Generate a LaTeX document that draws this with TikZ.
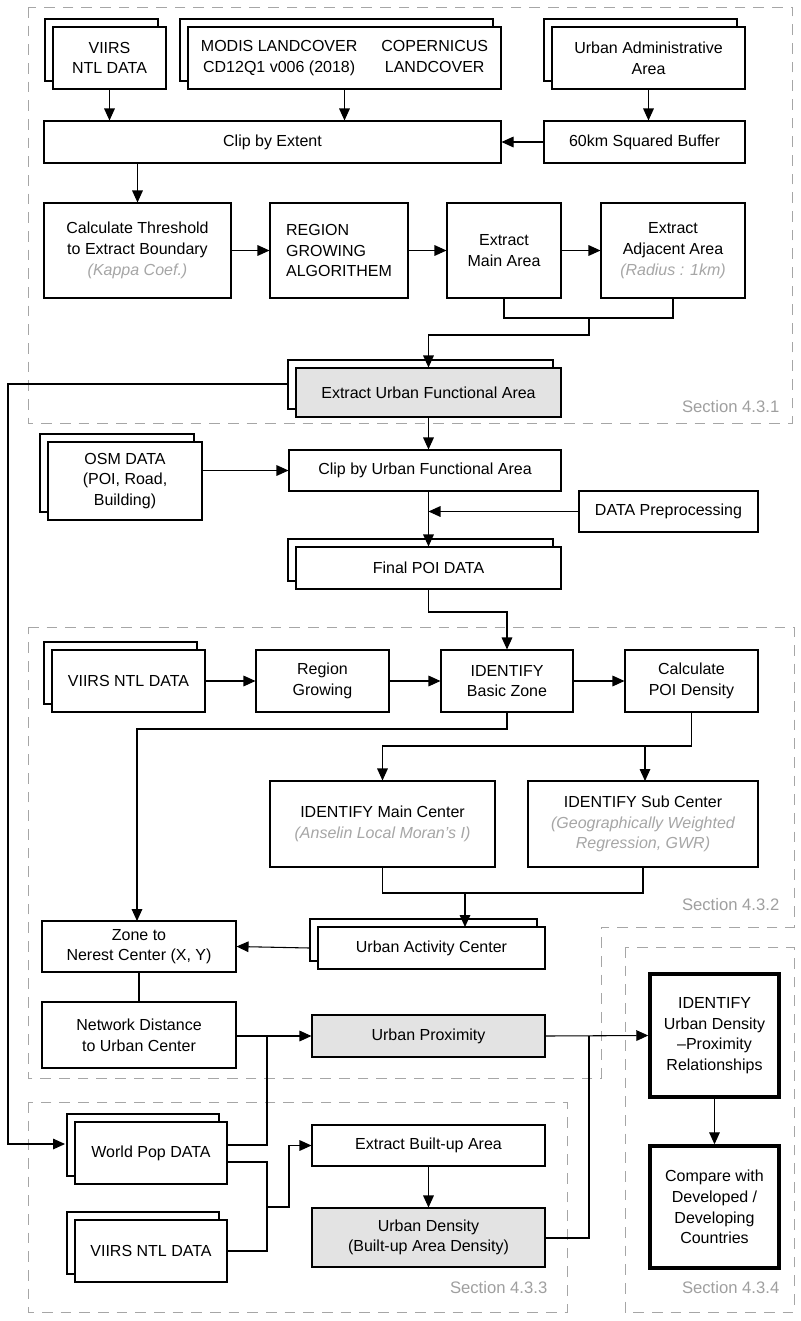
\documentclass[tikz,border=0pt]{standalone}
\usepackage{fontspec}
\setmainfont{Liberation Sans}
\usetikzlibrary{arrows.meta,shadows}
\begin{document}
\begin{tikzpicture}[x=0.75pt,y=-0.75pt,
  every node/.style={font=\fontsize{12}{15.5}\selectfont},
  b/.style n args={2}{draw=black,line width=0.8pt,fill=white,align=center,inner sep=1pt,minimum width=#1*0.75pt,minimum height=#2*0.75pt},
  st/.style={copy shadow={shadow xshift=-6pt,shadow yshift=6pt,fill=white,draw=black,line width=0.8pt}},
  sh/.style={fill=gray!22},
  seclab/.style={text=gray!75,anchor=east,font=\fontsize{12.5}{15}\selectfont},
  sec/.style={draw=gray!70,dash pattern=on 8pt off 6pt,line width=0.7pt},
  ar/.style={line width=0.8pt,-{Triangle[length=9pt,width=8pt]}},
  ln/.style={line width=0.8pt}]
\useasboundingbox (0,0) rectangle (800,1321);
% sections
\draw[sec] (28,7) rectangle (792,423);
\draw[sec] (28,627) -- (794,627) -- (794,927) -- (601,927) -- (601,1078) -- (28,1078) -- cycle;
\draw[sec] (28,1102) rectangle (567,1312);
\draw[sec] (625,947) rectangle (794,1312);
\node[seclab] (s1) at (784,407) {Section 4.3.1};
\node[seclab] (s2) at (784,905) {Section 4.3.2};
\node[seclab] (s3) at (552,1288) {Section 4.3.3};
\node[seclab] (s4) at (784,1288) {Section 4.3.4};
% nodes
\node[b={113}{62},st] (viirs1) at (109.5,58) {VIIRS\\NTL DATA};
\node[b={313}{62},st] (modis) at (344.5,58) {\begin{tabular}{@{}c@{\hspace{18pt}}c@{}}MODIS LANDCOVER & COPERNICUS\\ CD12Q1 v006 (2018) & LANDCOVER\end{tabular}};
\node[b={193}{62},st] (admin) at (648.5,58) {Urban Administrative\\Area};
\node[b={457}{42}] (clip) at (272.5,142) {Clip by Extent};
\node[b={201}{42}] (buf) at (644.5,142) {60km Squared Buffer};
\node[b={187}{95}] (calc) at (137.5,250.5) {Calculate Threshold\\to Extract Boundary\\{\color{gray!70}\itshape (Kappa Coef.)}};
\node[b={138}{95},align=left] (region) at (339,250.5) {REGION\\GROWING\\ALGORITHEM};
\node[b={114}{95}] (main) at (504,250.5) {Extract\\Main Area};
\node[b={144}{95}] (adj) at (673,250.5) {Extract\\Adjacent Area\\{\color{gray!70}\itshape (Radius : 1km)}};
\node[b={265}{49},st,sh] (eufa) at (428.5,392.5) {Extract Urban Functional Area};
\node[b={154}{78},st] (osm) at (125,481) {OSM DATA\\(POI, Road,\\Building)};
\node[b={272}{41}] (clipufa) at (425,470.5) {Clip by Urban Functional Area};
\node[b={179}{41}] (prep) at (668.5,511.5) {DATA Preprocessing};
\node[b={265}{42},st] (fpoi) at (428.5,568) {Final POI DATA};
\node[b={153}{62},st] (viirs2) at (128.5,681) {VIIRS NTL DATA};
\node[b={133}{62}] (rg) at (322.5,681) {Region\\Growing};
\node[b={132}{62}] (basic) at (507,681) {IDENTIFY\\Basic Zone};
\node[b={133}{62}] (poid) at (691.5,681) {Calculate\\POI Density};
\node[b={225}{86}] (mainc) at (382.5,824) {IDENTIFY Main Center\\{\color{gray!70}\itshape (Anselin Local Moran's I)}};
\node[b={230}{86}] (subc) at (643,824) {IDENTIFY Sub Center\\{\color{gray!70}\itshape (Geographically Weighted}\\{\color{gray!70}\itshape Regression, GWR)}};
\node[b={194}{51}] (zone) at (139,946.5) {Zone to\\Nerest Center (X, Y)};
\node[b={227}{42},st] (uac) at (431.5,948) {Urban Activity Center};
\node[b={194}{66}] (net) at (139,1035) {Network Distance\\to Urban Center};
\node[b={233}{42},sh] (prox) at (428.5,1036) {Urban Proximity};
\node[b={129}{123},line width=2.6pt] (udpr) at (714.5,1035.5) {IDENTIFY\\Urban Density\\--Proximity\\Relationships};
\node[b={129}{122},line width=2.6pt] (cmp) at (714.5,1207) {Compare with\\Developed /\\Developing\\Countries};
\node[b={152}{62},st] (wpop) at (151,1153) {World Pop DATA};
\node[b={152}{62},st] (viirs3) at (151,1251) {VIIRS NTL DATA};
\node[b={233}{41}] (ebu) at (428.5,1145.5) {Extract Built-up Area};
\node[b={233}{59},sh] (ud) at (428.5,1237.5) {Urban Density\\(Built-up Area Density)};
% connectors
\draw[ar] (viirs1.south) -- (viirs1.south |- clip.north);
\draw[ar] (modis.south) -- (modis.south |- clip.north);
\draw[ar] (admin.south) -- (admin.south |- buf.north);
\draw[ar] (buf.west) -- (clip.east);
\draw[ar] (calc.north |- clip.south) -- (calc.north);
\draw[ar] (calc.east) -- (region.west);
\draw[ar] (region.east) -- (main.west);
\draw[ar] (main.east) -- (adj.west);
\coordinate (m1) at (589,318);
\draw[ln] (main.south) |- (m1) -| (adj.south);
\draw[ar] (m1) -- (589,335) -| (eufa.north);
\coordinate (w1) at (65,1144);
\draw[ar] (288,384) -- (8,384) |- (w1);
\draw[ar] (eufa.south) -- (eufa.south |- clipufa.north);
\draw[ar] (osm.east |- clipufa.west) -- (clipufa.west);
\draw[ar] (eufa.south |- clipufa.south) -- (fpoi.north);
\draw[ar] (prep.west) -- (428.5,511.5);
\draw[ar] (fpoi.south) -- (428.5,612) -| (basic.north);
\draw[ar] (viirs2.east) -- (rg.west);
\draw[ar] (rg.east) -- (basic.west);
\draw[ar] (basic.east) -- (poid.west);
\draw[ar] (basic.south) |- (137,729) -- (137,921);
\draw[ar] (poid.south) |- (382.5,746) -- (mainc.north);
\draw[ar] (645,746) -- (645,781);
\draw[ln] (mainc.south) |- (465,893) -| (subc.south);
\draw[ar] (465,893) -- (465,927);
\draw[ar] (uac.west) ++(-8,0) -- (zone.east);
\draw[ln] (zone.south) -- (net.north);
\draw[ar] (net.east |- prox.west) -- (prox.west);
\draw[ar] (prox.east) -- (udpr.west);
\draw[ar] (udpr.south) -- (cmp.north);
\draw[ln] (227,1145) -- (267,1145) -- (267,1036);
\draw[ln] (227,1162) -- (267,1162) -- (267,1251) -- (227,1251);
\draw[ar] (267,1207) -- (289,1207) |- (ebu.west);
\draw[ar] (ebu.south) -- (ud.north);
\draw[ln] (ud.east |- 0,1238) -- (589,1238) -- (589,1036);
\end{tikzpicture}
\end{document}
